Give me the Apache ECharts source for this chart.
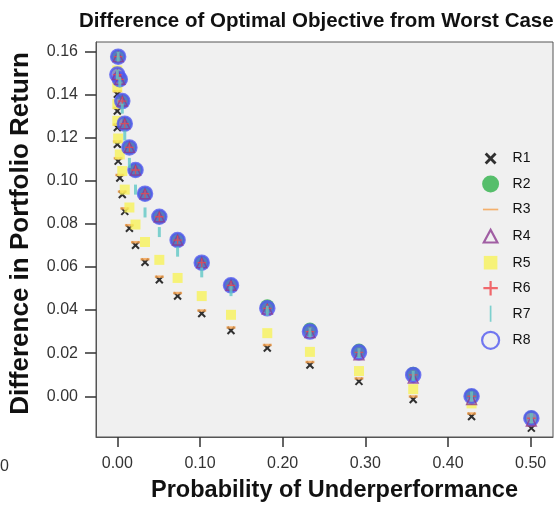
<!DOCTYPE html>
<html>
<head>
<meta charset="utf-8">
<script src="https://cdn.jsdelivr.net/npm/echarts@6/dist/echarts.min.js"></script>
<style>
html,body{margin:0;padding:0;background:#fff;}
#chart{width:559px;height:508px;}
</style>
</head>
<body>
<div id="chart"></div>
<script>
// Shared x values (probability of underperformance)
var probability = [0, 0, 0, 0, 0.001, 0.003, 0.006, 0.009, 0.0146, 0.022, 0.0335, 0.0508, 0.0729, 0.1021, 0.1375, 0.1814, 0.2330, 0.2923, 0.3579, 0.4285, 0.5008];
var seriesNames = ['R1','R2','R3','R4','R5','R6','R7','R8'];
var R1 = [0.1402,0.1324,0.1247,0.1169,0.1091,0.1013,0.0936,0.0858,0.0780,0.0701,0.0622,0.0541,0.0465,0.0384,0.0305,0.0224,0.0145,0.0069,-0.0015,-0.0094,-0.0148];
var R2 = [null,null,null,null,0.1576,0.1471,0.1370,0.1265,0.1155,0.1050,0.0940,0.0833,0.0725,0.0620,0.0515,0.0418,0.0310,0.0212,0.0104,0.0003,-0.0099];
var R3 = [0.1416,0.1338,0.1261,0.1183,0.1105,0.1027,0.0950,0.0872,0.0794,0.0715,0.0636,0.0555,0.0479,0.0398,0.0319,0.0238,0.0159,0.0083,-0.0001,-0.0080,-0.0134];
var R4 = [null,null,null,0.1493,0.1576,0.1471,0.1370,0.1265,0.1155,0.1050,0.0940,0.0833,0.0725,0.0620,0.0515,0.0405,0.0296,0.0192,0.0085,-0.0015,-0.0115];
var R5 = [0.1512,0.1434,0.1356,0.1278,0.1196,0.1122,0.1045,0.0959,0.0876,0.0797,0.0716,0.0633,0.0549,0.0465,0.0378,0.0293,0.0206,0.0117,0.0033,-0.0033,-0.0102];
var R6 = [null,null,null,0.1493,0.1576,0.1471,0.1370,0.1265,0.1155,0.1050,0.0940,0.0833,0.0725,0.0620,0.0515,0.0408,0.0300,0.0204,0.0099,0.0000,-0.0102];
var R7 = [null,null,null,0.1493,0.1576,0.1458,0.1335,0.1210,0.1083,0.0959,0.0853,0.0762,0.0671,0.0575,0.0488,0.0397,0.0296,0.0200,0.0095,-0.0001,-0.0102];
var R8 = [null,null,null,0.1493,0.1576,0.1471,0.1370,0.1265,0.1155,0.1050,0.0940,0.0833,0.0725,0.0620,0.0515,0.0408,0.0300,0.0204,0.0099,0.0000,-0.0102];
var yTicks = [0, 0.02, 0.04, 0.06, 0.08, 0.10, 0.12, 0.14, 0.16];
var xTicks = [0, 0.1, 0.2, 0.3, 0.4, 0.5];

var valuesBySeries = [R1,R2,R3,R4,R5,R6,R7,R8];
function pairs(ys){
  var out = [];
  for (var i = 0; i < ys.length; i++) { if (ys[i] !== null) out.push([probability[i], ys[i]]); }
  return out;
}

var BOX = 'M0 0M20 20';
var xPath = 'path://M0 0M20 20M3 5.4L5.4 3L10 7.6L14.6 3L17 5.4L12.4 10L17 14.6L14.6 17L10 12.4L5.4 17L3 14.6L7.6 10Z';
var plusPath = 'path://M0 0M20 20M1.5 8.7H8.7V1.5H11.3V8.7H18.5V11.3H11.3V18.5H8.7V11.3H1.5Z';
var dashIcon = 'path://' + BOX + 'M1 9H19V11H1Z';
var barIcon = 'path://' + BOX + 'M9 0.5H11V19.5H9Z';
var squareIcon = 'path://' + BOX + 'M2 2H18V18H2Z';
var triIcon = 'path://' + BOX + 'M10 2.5L18 17.5H2Z';

var colors = {R1:'#000000', R2:'#2fb24a', R3:'#f5a04c', R4:'#8c3a90', R5:'#f8f25a', R6:'#f0454a', R7:'#60c8c6', R8:'#5058f0'};

var styles = {
  R1:{symbol:xPath, symbolSize:12, z:2, itemStyle:{color:colors.R1}},
  R2:{symbol:'circle', symbolSize:14, z:3, itemStyle:{color:colors.R2}},
  R3:{symbol:'rect', symbolSize:[9,2.5], z:4, itemStyle:{color:colors.R3}},
  R4:{symbol:'triangle', symbolSize:10, z:7, itemStyle:{color:'rgba(0,0,0,0)', borderColor:colors.R4, borderWidth:1.4}},
  R5:{symbol:'rect', symbolSize:10, z:5, itemStyle:{color:colors.R5}},
  R6:{symbol:plusPath, symbolSize:10, z:8, itemStyle:{color:colors.R6}},
  R7:{symbol:'rect', symbolSize:[3,10], z:9, itemStyle:{color:colors.R7}},
  R8:{symbol:'circle', symbolSize:14, z:6, itemStyle:{color:'rgba(84,88,236,0.8)', borderColor:colors.R8, borderWidth:2.5}}
};

var legendIcons = {
  R1:{icon:xPath, itemStyle:{color:colors.R1, borderWidth:0}},
  R2:{icon:'circle', itemStyle:{color:colors.R2, borderWidth:0}},
  R3:{icon:dashIcon, itemStyle:{color:colors.R3, borderWidth:0}},
  R4:{icon:triIcon, itemStyle:{color:'rgba(0,0,0,0)', borderColor:colors.R4, borderWidth:2.2}},
  R5:{icon:squareIcon, itemStyle:{color:colors.R5, borderWidth:0}},
  R6:{icon:plusPath, itemStyle:{color:colors.R6, borderWidth:0}},
  R7:{icon:barIcon, itemStyle:{color:colors.R7, borderWidth:0}},
  R8:{icon:'circle', itemStyle:{color:'rgba(0,0,0,0)', borderColor:colors.R8, borderWidth:2.2}}
};

var series = seriesNames.map(function(n, k){
  var s = styles[n];
  return {
    name:n, type:'scatter', data:pairs(valuesBySeries[k]),
    symbol:s.symbol, symbolSize:s.symbolSize, symbolKeepAspect:true,
    itemStyle:s.itemStyle, z:s.z, emphasis:{disabled:true}, animation:false
  };
});

var chart = echarts.init(document.getElementById('chart'), null, {renderer:'canvas'});
chart.setOption({
  backgroundColor:'#ffffff',
  animation:false,
  title:{text:'Difference of Optimal Objective from Worst Case', left:74, top:6,
    textStyle:{fontFamily:'Liberation Sans', fontWeight:'bold', fontSize:20.5, color:'#111'}},
  grid:{left:96, right:6, top:42, bottom:65, show:true, backgroundColor:'#f0f0f0', borderColor:'#555', borderWidth:1, containLabel:false},
  legend:{
    orient:'vertical', left:476, top:145, itemWidth:34, itemHeight:17, itemGap:8.5,
    symbolKeepAspect:true,
    textStyle:{fontFamily:'Liberation Sans', fontSize:14, color:'#111'},
    data:seriesNames.map(function(n){ return {name:n, icon:legendIcons[n].icon, itemStyle:legendIcons[n].itemStyle}; })
  },
  xAxis:{
    type:'value', min:-0.0258, max:0.527,
    name:'Probability of Underperformance', nameLocation:'middle', nameGap:42,
    nameTextStyle:{fontFamily:'Liberation Sans', fontWeight:'bold', fontSize:23.5, color:'#111', padding:[0,0,0,20]},
    axisLine:{show:true, onZero:false, lineStyle:{color:'#555'}},
    axisTick:{show:true, length:10, inside:false, customValues:xTicks, lineStyle:{color:'#333', width:1.5}},
    axisLabel:{customValues:xTicks, margin:19, fontFamily:'Liberation Sans', fontSize:16, color:'#333',
      formatter:function(v){ return v.toFixed(2); }},
    splitLine:{show:false}
  },
  yAxis:{
    type:'value', min:-0.0189, max:0.1644,
    name:'Difference in Portfolio Return', nameLocation:'middle', nameGap:62,
    nameTextStyle:{fontFamily:'Liberation Sans', fontWeight:'bold', fontSize:26, color:'#111', padding:[0,0,0,12]},
    axisLine:{show:true, onZero:false, lineStyle:{color:'#555'}},
    axisTick:{show:true, length:11, inside:false, customValues:yTicks, lineStyle:{color:'#333', width:1.5}},
    axisLabel:{customValues:yTicks, margin:18, fontFamily:'Liberation Sans', fontSize:16, color:'#333',
      formatter:function(v){ return v.toFixed(2); }},
    splitLine:{show:false}
  },
  graphic:[{type:'text', left:0, top:459, style:{text:'0', fontFamily:'Liberation Sans', fontSize:16, fill:'#333'}}],
  series:series
});
</script>
</body>
</html>
